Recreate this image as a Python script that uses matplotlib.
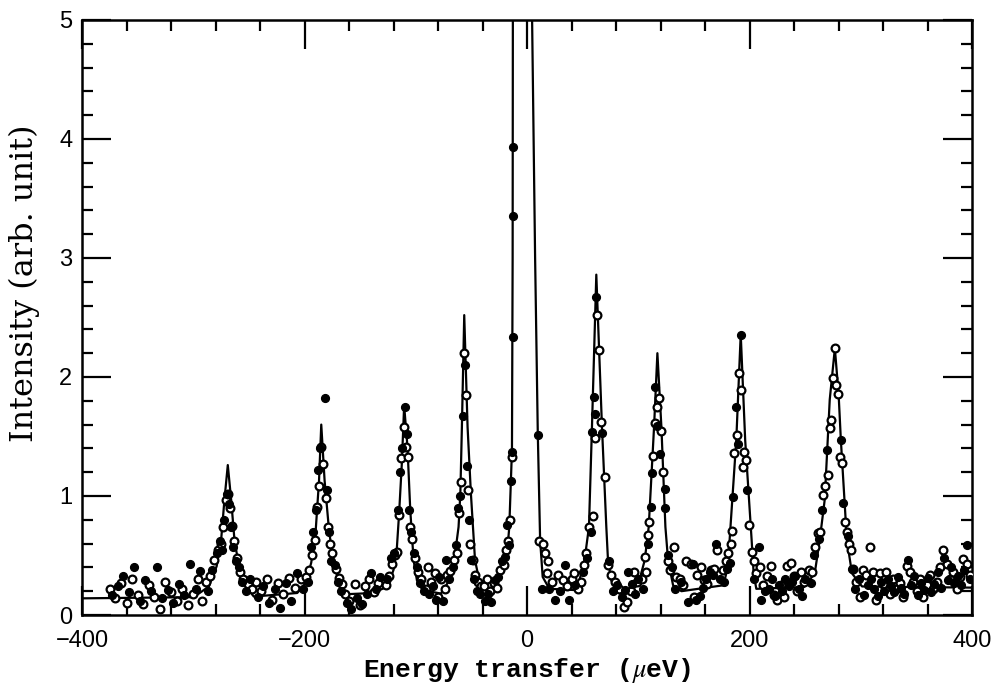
import matplotlib
matplotlib.use("Agg")
import matplotlib.pyplot as plt
from matplotlib.ticker import MultipleLocator

plt.rcParams['mathtext.fontset'] = 'stix'

# fitted curve, vertices (peak by peak)
fit_x = [-400,
         -299.6, -286, -279, -275, -272, -269, -266, -263, -259, -253, -245.6,
         -206.6, -199, -194, -190, -187, -185, -182, -178, -174, -169, -161.6,
         -138, -125.5, -120, -117, -115, -112.6, -110.5, -107.5, -105, -102, -99, -94,
         -77.5, -70, -65.5, -61.6, -60, -58.6, -56.5, -53.5, -50.5, -46.8, -43, -35.4,
         -26, -21.6, -18, -16, -13.6, -13.0, -12.8, -4, 4.5, 7.2, 9.6, 11.7, 14, 20,
         42, 47, 51.6, 55.6, 58.3, 62.2, 67.3, 71.2, 72.7, 75.7, 80,
         90.7, 99.7, 105.7, 109.3, 114.1, 117.1, 120.7, 124.3, 126.7, 131.2, 138.7,
         176.5, 179, 182, 188, 192, 196, 201.8, 203.6, 206,
         249, 258.5, 263, 267.5, 272, 276.6, 280, 282, 287.4, 292, 301,
         400]
fit_y = [0.14,
         0.15, 0.24, 0.41, 0.63, 0.97, 1.26, 0.97, 0.63, 0.41, 0.24, 0.155,
         0.185, 0.27, 0.44, 0.71, 1.13, 1.60, 1.13, 0.71, 0.44, 0.27, 0.175,
         0.185, 0.24, 0.38, 0.57, 0.86, 1.27, 1.76, 1.41, 0.88, 0.46, 0.29, 0.21,
         0.18, 0.29, 0.46, 0.74, 1.02, 1.58, 2.52, 1.58, 1.02, 0.46, 0.29, 0.20,
         0.29, 0.38, 0.52, 0.74, 1.39, 3.0, 5.0, 60.0, 5.0, 3.0, 1.53, 0.63, 0.32, 0.22,
         0.21, 0.29, 0.46, 0.74, 1.58, 2.86, 1.58, 0.74, 0.46, 0.29, 0.21,
         0.20, 0.25, 0.46, 0.74, 1.58, 2.20, 1.58, 0.74, 0.46, 0.25, 0.20,
         0.25, 0.35, 0.63, 1.47, 2.36, 1.47, 0.63, 0.35, 0.22,
         0.235, 0.35, 0.63, 0.97, 1.81, 2.24, 1.85, 1.47, 0.63, 0.35, 0.24,
         0.23]

# open circles
open_x = [-375, -370, -365, -360, -355, -350, -345, -340, -335, -330, -325, -320, -315, -310, -305, -300, -296, -292,
          -289, -285, -281, -278, -275, -273, -271, -269, -267, -265, -263, -261, -258, -255, -251, -247,
          -244, -239, -234, -229, -224, -219, -214, -209,
          -203, -199, -196, -193, -191, -189, -187, -185, -183, -181, -179, -177, -175, -172, -169, -166,
          -164, -160, -155, -150, -146, -142, -138, -134,
          -127, -124, -121, -119, -117, -115, -113, -111, -109, -107, -105, -103, -101, -98, -95, -91,
          -89, -86, -83, -80, -77, -74,
          -72, -69, -66, -63, -61, -59, -57, -55, -53, -51, -49, -47, -44, -41,
          -39, -36, -33, -30, -27, -24, -21, -19, -17, -15, -14,
          11, 14, 16, 17.5, 19, 22, 27.5, 32, 36, 40, 42.6, 46,
          48, 51, 53, 56, 59, 61, 63, 64.6, 66, 69.6, 72.7, 75.7, 79, 83,
          87, 90, 93, 96, 99,
          103, 106, 107, 108.5, 110, 113, 115, 117, 118.3, 120, 122, 126.6, 128, 131.7, 134, 137, 140,
          143, 147, 150, 153, 156, 159, 162, 165, 168, 171,
          176, 179, 181, 183, 184.5, 186, 188.5, 190.5, 192.5, 194, 195, 196.5, 199, 201.8, 203.5, 206, 209, 212,
          216, 219, 222, 225, 228, 231, 234, 237, 240, 243, 246, 249,
          253, 256, 259, 261, 263, 266, 268, 270, 272, 273.5, 275, 276.6, 278, 279.5, 281, 283, 286, 287.5,
          289, 291, 293, 296, 299, 302, 308,
          305, 311, 314, 317, 320, 323, 326, 329, 332, 335, 338, 341, 344, 347, 350, 353, 356, 359, 362,
          365, 368, 371, 374, 377, 380, 383, 386, 389, 392, 395, 398]
open_y = [0.22, 0.14, 0.27, 0.10, 0.30, 0.17, 0.09, 0.25, 0.15, 0.05, 0.28, 0.19, 0.12, 0.22, 0.08, 0.18, 0.30, 0.12,
          0.28, 0.33, 0.46, 0.55, 0.60, 0.74, 0.97, 1.02, 0.90, 0.75, 0.62, 0.48, 0.36, 0.30, 0.26, 0.22,
          0.28, 0.20, 0.30, 0.13, 0.27, 0.18, 0.31, 0.23,
          0.30, 0.32, 0.38, 0.50, 0.63, 0.91, 1.08, 1.41, 1.27, 0.98, 0.74, 0.60, 0.52, 0.39, 0.31, 0.26,
          0.18, 0.12, 0.26, 0.08, 0.24, 0.30, 0.19, 0.27,
          0.25, 0.33, 0.43, 0.50, 0.53, 0.84, 1.32, 1.58, 1.41, 1.33, 0.74, 0.64, 0.48, 0.36, 0.30, 0.22,
          0.40, 0.28, 0.35, 0.15, 0.30, 0.22,
          0.34, 0.37, 0.46, 0.52, 0.86, 1.12, 2.20, 1.85, 1.05, 0.60, 0.46, 0.34, 0.28, 0.24,
          0.24, 0.30, 0.20, 0.27, 0.23, 0.38, 0.42, 0.55, 0.62, 0.80, 1.33,
          0.62, 0.60, 0.52, 0.35, 0.45, 0.28, 0.34, 0.29, 0.24, 0.30, 0.35, 0.22,
          0.28, 0.42, 0.52, 0.74, 0.83, 1.49, 2.52, 2.23, 1.62, 1.16, 0.42, 0.34, 0.28, 0.22,
          0.07, 0.11, 0.20, 0.36, 0.28,
          0.30, 0.49, 0.36, 0.67, 0.78, 1.34, 1.61, 1.75, 1.82, 1.55, 1.20, 0.45, 0.38, 0.57, 0.32, 0.30, 0.25,
          0.45, 0.43, 0.15, 0.34, 0.40, 0.29, 0.26, 0.38, 0.39, 0.55,
          0.38, 0.45, 0.52, 0.60, 0.71, 1.36, 1.51, 2.03, 1.89, 1.24, 1.37, 1.30, 0.76, 0.53, 0.45, 0.35, 0.40, 0.25,
          0.33, 0.41, 0.17, 0.13, 0.25, 0.15, 0.41, 0.44, 0.33, 0.20, 0.36, 0.28,
          0.38, 0.36, 0.57, 0.69, 0.70, 1.01, 1.08, 1.18, 1.57, 1.64, 1.99, 2.24, 1.93, 1.86, 1.33, 1.28, 0.78, 0.70,
          0.60, 0.55, 0.39, 0.28, 0.15, 0.38, 0.57,
          0.34, 0.36, 0.13, 0.35, 0.26, 0.36, 0.18, 0.30, 0.22, 0.27, 0.15, 0.41, 0.36, 0.28, 0.20, 0.30, 0.15, 0.25, 0.34,
          0.22, 0.28, 0.40, 0.55, 0.43, 0.30, 0.36, 0.22, 0.32, 0.47, 0.43, 0.34]

# filled dots
filled_x = [-373, -368, -363, -358, -353, -348, -343, -338, -333, -328, -323, -318, -313, -308, -303, -298, -294,
            -287, -283, -279, -276, -274, -272, -270, -268, -266, -264, -262, -259, -256, -253, -249,
            -242, -237, -232, -227, -222, -217, -212, -207,
            -201, -197, -194, -192, -190, -188, -186, -182, -180, -178, -176, -173, -170, -167,
            -162, -158, -153, -148, -144, -140, -136, -132,
            -126, -122, -120, -116, -114, -112, -110, -108, -106, -104, -102, -99, -96, -93,
            -88, -85, -82, -79, -76, -73,
            -70, -67, -64, -62, -60, -58, -56, -54, -52, -50, -48, -45, -42,
            -38, -35, -32, -29, -26, -23, -20, -18, -16, -14.5, -13.5, -13, -12.8, -12.6,
            9.6, 13, 20, 25, 30, 34, 38, 43,
            50, 54, 57, 58.5, 60.5, 61.3, 62, 67.5, 74, 77, 81, 85,
            88, 91, 94, 97, 100,
            104, 109, 111, 112.5, 114.7, 116.5, 119.5, 123.7, 124.3, 127, 130, 133, 138, 144.6,
            149, 152, 155, 158, 161, 164, 167, 170, 173,
            177, 180, 182, 185.3, 187.4, 189.5, 192, 197.5, 204, 208, 210, 214,
            217, 220, 223, 226, 229, 232, 235, 238, 241, 244, 247, 250,
            255, 258, 262, 265, 269.5, 282, 284, 288, 292, 295, 298,
            303, 306, 309, 312, 315, 318, 321, 324, 327, 330, 333, 336, 339, 342.6, 345, 348, 351,
            354, 357, 360, 363, 366, 369, 372, 375, 378, 381, 384, 387, 390, 393, 395.5, 398]
filled_y = [0.17, 0.24, 0.33, 0.19, 0.40, 0.12, 0.29, 0.20, 0.40, 0.14, 0.21, 0.10, 0.26, 0.17, 0.43, 0.22, 0.37,
            0.20, 0.38, 0.52, 0.62, 0.55, 0.80, 1.02, 0.93, 0.74, 0.57, 0.45, 0.40, 0.28, 0.20, 0.30,
            0.15, 0.24, 0.10, 0.22, 0.06, 0.27, 0.12, 0.35,
            0.22, 0.28, 0.57, 0.70, 0.88, 1.22, 1.40, 1.82, 1.05, 0.70, 0.45, 0.42, 0.28, 0.20,
            0.10, 0.05, 0.14, 0.09, 0.18, 0.35, 0.22, 0.32,
            0.30, 0.48, 0.52, 0.88, 1.20, 1.40, 1.75, 1.52, 0.88, 0.70, 0.52, 0.40, 0.27, 0.20,
            0.18, 0.24, 0.13, 0.32, 0.12, 0.46,
            0.30, 0.40, 0.59, 0.90, 1.00, 1.67, 2.10, 1.25, 0.80, 0.46, 0.30, 0.20, 0.18,
            0.12, 0.18, 0.11, 0.29, 0.32, 0.45, 0.49, 0.76, 0.59, 1.13, 1.37, 2.34, 3.35, 3.93,
            1.51, 0.22, 0.22, 0.13, 0.20, 0.42, 0.13, 0.25,
            0.36, 0.48, 0.70, 1.54, 1.83, 1.69, 2.67, 1.53, 0.45, 0.20, 0.25, 0.15,
            0.21, 0.36, 0.26, 0.18, 0.30,
            0.22, 0.60, 0.91, 1.19, 1.92, 1.59, 1.35, 1.06, 0.90, 0.50, 0.40, 0.22, 0.28, 0.11,
            0.43, 0.13, 0.16, 0.23, 0.30, 0.36, 0.34, 0.60, 0.30,
            0.28, 0.39, 0.44, 0.99, 1.75, 1.44, 2.35, 1.05, 0.30, 0.57, 0.13, 0.20,
            0.22, 0.30, 0.16, 0.25, 0.20, 0.30, 0.24, 0.28, 0.33, 0.22, 0.16, 0.30,
            0.27, 0.50, 0.64, 0.88, 1.39, 1.47, 0.94, 0.66, 0.39, 0.22, 0.30,
            0.17, 0.25, 0.30, 0.22, 0.16, 0.28, 0.20, 0.30, 0.24, 0.19, 0.32, 0.23, 0.18, 0.46, 0.25, 0.33, 0.17,
            0.27, 0.21, 0.31, 0.19, 0.26, 0.36, 0.23, 0.48, 0.29, 0.40, 0.27, 0.33, 0.25, 0.38, 0.59, 0.30]

fig = plt.figure(figsize=(9.92, 6.89), dpi=100)
ax = fig.add_axes([0.0827, 0.1074, 0.8973, 0.8636])

ax.plot(fit_x, fit_y, color='black', lw=1.6, zorder=2)
ax.plot(open_x, open_y, 'o', ls='none', mfc='white', mec='black', mew=1.6, ms=5.6, zorder=3)
ax.plot(filled_x, filled_y, 'o', ls='none', color='black', ms=5.6, zorder=3)

ax.set_xlim(-400, 400)
ax.set_ylim(0, 5)
ax.xaxis.set_major_locator(MultipleLocator(200))
ax.xaxis.set_minor_locator(MultipleLocator(40))
ax.yaxis.set_major_locator(MultipleLocator(1))
ax.yaxis.set_minor_locator(MultipleLocator(0.2))
ax.tick_params(which='both', direction='in', top=True, right=True, width=1.6, color='black')
ax.tick_params(which='major', length=21, labelsize=17)
ax.tick_params(axis='x', which='major', pad=11)
ax.tick_params(axis='y', which='major', pad=7)
ax.tick_params(which='minor', length=8)
for lab in ax.get_xticklabels() + ax.get_yticklabels():
    lab.set_family('Liberation Sans')
for sp in ax.spines.values():
    sp.set_linewidth(1.8)

ax.set_xlabel(r'Energy transfer ($\mu$eV)', fontsize=19, family='Liberation Mono',
              fontweight='bold', labelpad=3)
ax.set_ylabel('Intensity (arb. unit)', fontsize=23, family='DejaVu Serif')
ax.yaxis.set_label_coords(-0.047, 0.558)

fig.savefig('out.png', dpi=100)
